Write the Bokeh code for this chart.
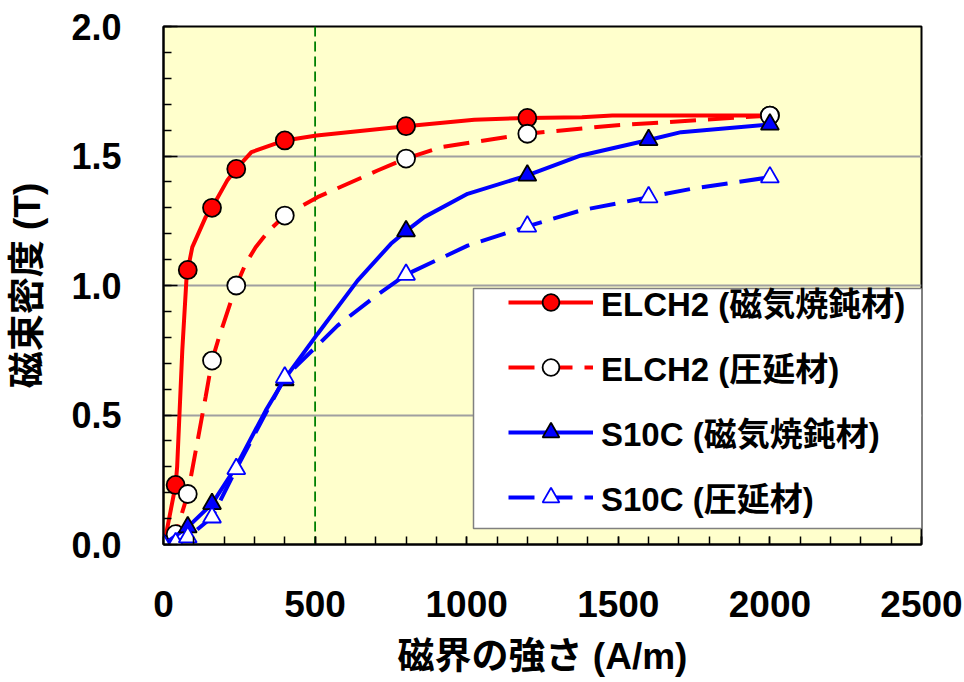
from bokeh.plotting import figure
from bokeh.models import (Range1d, FixedTicker, Span, Legend, LegendItem,
                          BoxAnnotation, NumeralTickFormatter)
from bokeh.embed import file_html
from bokeh.resources import INLINE

# ---------------- data ----------------
x_ticks = [0, 500, 1000, 1500, 2000, 2500]
y_ticks = [0.0, 0.5, 1.0, 1.5, 2.0]
ref_h = 500  # vertical reference line (A/m)

labels = ["ELCH2 (磁気焼鈍材)", "ELCH2 (圧延材)", "S10C (磁気焼鈍材)", "S10C (圧延材)"]

# ELCH2 annealed
elch2_ann_h = [0, 40, 80, 160, 240, 400, 800, 1200, 2000]
elch2_ann_b = [0.0, 0.23, 1.06, 1.30, 1.45, 1.56, 1.615, 1.647, 1.656]
elch2_ann_curve_h = [0, 7, 40, 45, 62, 76, 80, 95, 139, 160, 210, 240, 290, 400,
                     505, 800, 860, 1025, 1200, 1380, 1480, 2000]
elch2_ann_curve_b = [0.0, 0.03, 0.23, 0.30, 0.75, 1.03, 1.06, 1.148, 1.264, 1.30,
                     1.405, 1.45, 1.515, 1.56, 1.579, 1.615, 1.622, 1.64, 1.647,
                     1.65, 1.656, 1.656]

# ELCH2 rolled
elch2_rol_h = [0, 40, 80, 160, 240, 400, 800, 1200, 2000]
elch2_rol_b = [0.0, 0.04, 0.195, 0.71, 1.00, 1.27, 1.49, 1.586, 1.656]
elch2_rol_curve_h = [0, 40, 80, 106, 139, 160, 183, 227, 240, 271, 304, 348, 400,
                     508, 706, 800, 915, 1200, 1487, 2000]
elch2_rol_curve_b = [0.0, 0.04, 0.195, 0.36, 0.57, 0.71, 0.80, 0.955, 1.00, 1.084,
                     1.148, 1.212, 1.27, 1.341, 1.444, 1.49, 1.534, 1.586, 1.618,
                     1.656]

# S10C annealed
s10c_ann_h = [0, 80, 160, 400, 800, 1200, 1600, 2000]
s10c_ann_b = [0.0, 0.067, 0.157, 0.635, 1.21, 1.425, 1.562, 1.622]
s10c_ann_curve_h = [0, 80, 160, 238, 337, 400, 508, 640, 750, 800, 860, 1003, 1200,
                    1377, 1600, 1707, 2000]
s10c_ann_curve_b = [0.0, 0.067, 0.157, 0.298, 0.517, 0.64, 0.813, 1.019, 1.161,
                    1.21, 1.264, 1.354, 1.425, 1.502, 1.562, 1.592, 1.622]

# S10C rolled
s10c_rol_h = [0, 40, 80, 160, 240, 400, 800, 1200, 1600, 2000]
s10c_rol_b = [0.0, 0.005, 0.028, 0.105, 0.292, 0.645, 1.042, 1.228, 1.341, 1.418]
s10c_rol_curve_h = [0, 40, 80, 160, 240, 400, 574, 695, 800, 1003, 1200, 1377,
                    1600, 1740, 2000]
s10c_rol_curve_b = [0.0, 0.005, 0.028, 0.105, 0.292, 0.645, 0.845, 0.955, 1.042,
                    1.154, 1.228, 1.29, 1.341, 1.373, 1.418]

# ---------------- figure ----------------
FONT = "'Liberation Sans', 'Noto Sans CJK JP', sans-serif"
RED = "#FF0000"
BLUE = "#0000FF"
LW = 4

p = figure(width=964, height=682, output_backend="svg", toolbar_location=None,
           x_range=Range1d(0, 2500), y_range=Range1d(0, 2.0),
           min_border_left=163, min_border_right=43,
           min_border_top=26, min_border_bottom=138)
p.background_fill_color = "#FFFFCC"
p.border_fill_color = "white"
p.outline_line_color = "black"
p.outline_line_width = 2

# axes
p.xaxis.ticker = FixedTicker(ticks=x_ticks, minor_ticks=list(range(0, 2501, 100)))
p.yaxis.ticker = FixedTicker(ticks=y_ticks, minor_ticks=[i / 10 for i in range(21)])
p.yaxis.formatter = NumeralTickFormatter(format="0.0")
for ax in (p.xaxis[0], p.yaxis[0]):
    ax.axis_line_color = "black"
    ax.axis_line_width = 2
    ax.major_tick_out = 0
    ax.minor_tick_out = 0
    ax.major_tick_line_color = "black"
    ax.minor_tick_line_color = "black"
    ax.major_tick_line_width = 1.5
    ax.minor_tick_line_width = 1.5
    ax.major_label_text_font = FONT
    ax.major_label_text_font_style = "bold"
    ax.major_label_text_color = "black"
    ax.axis_label_text_font = FONT
    ax.axis_label_text_font_style = "bold"
    ax.axis_label_text_color = "black"
p.xaxis.major_tick_in = 8
p.xaxis.minor_tick_in = 8
p.yaxis.major_tick_in = 14
p.yaxis.minor_tick_in = 8
p.xaxis.major_label_text_font_size = "37px"
p.yaxis.major_label_text_font_size = "36px"
p.xaxis.major_label_standoff = 46
p.yaxis.major_label_standoff = 42
p.xaxis.axis_label = "磁界の強さ (A/m)"
p.yaxis.axis_label = "磁束密度 (T)"
p.xaxis.axis_label_text_font_size = "37px"
p.yaxis.axis_label_text_font_size = "37px"
p.xaxis.axis_label_standoff = 16
p.yaxis.axis_label_standoff = 20

# grid
p.xgrid.visible = False
p.ygrid.ticker = FixedTicker(ticks=[0.5, 1.0, 1.5])
p.ygrid.grid_line_color = "#A0A0A0"
p.ygrid.grid_line_width = 2

# reference line
p.add_layout(Span(location=ref_h, dimension="height", line_color="#008000",
                  line_width=1.8, line_dash="10 5", level="underlay"))

# series
l1 = p.line(elch2_ann_curve_h, elch2_ann_curve_b, line_color=RED, line_width=LW)
m1 = p.scatter(elch2_ann_h, elch2_ann_b, marker="circle", size=18,
               fill_color=RED, line_color="black", line_width=1.8)
l2 = p.line(elch2_rol_curve_h, elch2_rol_curve_b, line_color=RED, line_width=LW,
            line_dash="26 12")
m2 = p.scatter(elch2_rol_h, elch2_rol_b, marker="circle", size=18,
               fill_color="white", line_color="black", line_width=1.8)
l3 = p.line(s10c_ann_curve_h, s10c_ann_curve_b, line_color=BLUE, line_width=LW)
m3 = p.scatter(s10c_ann_h, s10c_ann_b, marker="triangle", size=18,
               fill_color=BLUE, line_color="black", line_width=1.8)
l4 = p.line(s10c_rol_curve_h, s10c_rol_curve_b, line_color=BLUE, line_width=LW,
            line_dash="26 12")
m4 = p.scatter(s10c_rol_h, s10c_rol_b, marker="triangle", size=18,
               fill_color="white", line_color=BLUE, line_width=1.8)

# legend box
box = BoxAnnotation(left=310, right=775, bottom=16, top=256,
                    left_units="screen", right_units="screen",
                    bottom_units="screen", top_units="screen",
                    fill_color="white", fill_alpha=1.0,
                    line_color="#808080", line_width=1.5, line_alpha=1.0)
p.add_layout(box)

legend = Legend(items=[LegendItem(label=labels[0], renderers=[l1, m1]),
                       LegendItem(label=labels[1], renderers=[l2, m2]),
                       LegendItem(label=labels[2], renderers=[l3, m3]),
                       LegendItem(label=labels[3], renderers=[l4, m4])],
                location=(345, 23), padding=0, margin=0,
                glyph_width=85, glyph_height=42, label_height=42,
                spacing=17, label_standoff=8,
                label_text_font=FONT, label_text_font_style="bold",
                label_text_font_size="33px", label_text_color="black",
                background_fill_alpha=0.0, border_line_alpha=0.0)
p.add_layout(legend)

open("out.html", "w").write(file_html(p, INLINE))
